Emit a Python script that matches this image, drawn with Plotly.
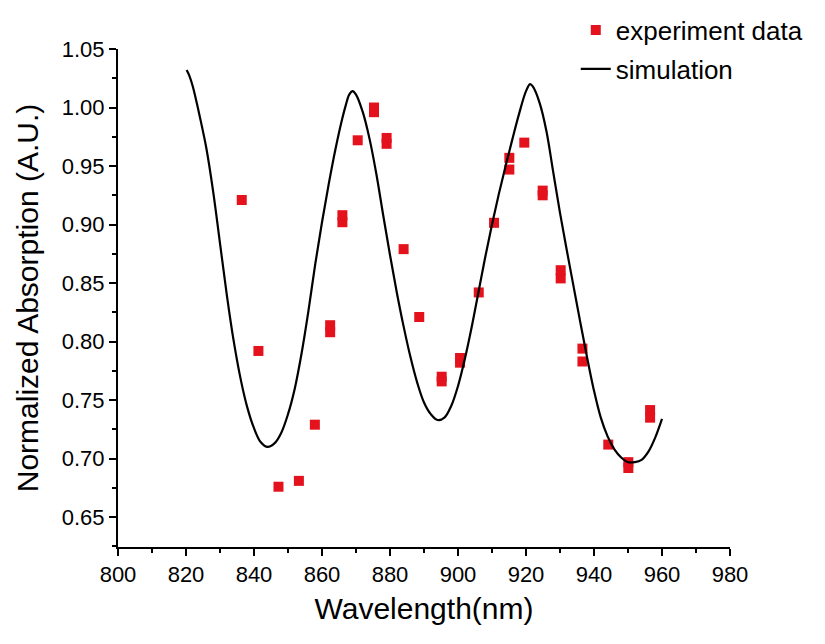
import plotly.graph_objects as go

# Experiment data
exp_wavelength = [836.4, 841.3, 847.2, 853.2, 857.9, 862.4, 862.4, 866.0, 866.0, 870.5,
                  875.3, 875.3, 879.0, 879.0, 884.0, 888.6, 895.2, 895.2, 900.6, 900.6,
                  906.1, 910.6, 915.1, 915.1, 919.5, 924.9, 924.9, 930.2, 930.2, 936.6,
                  936.6, 944.2, 950.1, 950.1, 956.5, 956.5]
exp_absorption = [0.921, 0.792, 0.676, 0.681, 0.729, 0.808, 0.814, 0.902, 0.908, 0.972,
                  0.996, 1.000, 0.969, 0.974, 0.879, 0.821, 0.766, 0.770, 0.782, 0.786,
                  0.842, 0.9015, 0.947, 0.957, 0.970, 0.925, 0.929, 0.854, 0.861, 0.783,
                  0.794, 0.712, 0.692, 0.697, 0.735, 0.7415]

# Simulation curve
sim_wavelength = [820.2, 821, 822, 823, 824, 826, 828, 830, 832, 834, 836, 838, 840, 842, 844,
                  846, 848, 850, 852, 854, 856, 858, 860, 862, 864, 866, 867, 868, 869,
                  870, 872, 874, 876, 878, 880, 882, 884, 886, 888, 890, 892, 894,
                  896, 898, 900, 902, 904, 906, 908, 910, 912, 914, 916, 918, 920, 921.2,
                  922, 924, 926, 928, 930, 932, 934, 936, 938, 940, 942, 944, 946, 948,
                  950, 952, 954, 956, 958, 960]
sim_absorption = [1.032, 1.027, 1.018, 1.006, 0.993, 0.965, 0.928, 0.884, 0.840, 0.801, 0.769,
                  0.744, 0.726, 0.714, 0.710,
                  0.713, 0.722, 0.738, 0.760, 0.790, 0.826, 0.866, 0.902, 0.935, 0.965, 0.991,
                  1.002, 1.011, 1.014,
                  1.011, 0.996, 0.973, 0.943, 0.908, 0.874, 0.842, 0.813, 0.787, 0.765, 0.748,
                  0.738, 0.733,
                  0.735, 0.745, 0.762, 0.785, 0.812, 0.842, 0.872, 0.900, 0.926, 0.950, 0.973,
                  0.995, 1.014, 1.020,
                  1.018, 1.004, 0.980, 0.945, 0.910, 0.878, 0.847, 0.816, 0.786, 0.758, 0.735,
                  0.719, 0.708, 0.701, 0.697, 0.697, 0.699, 0.706, 0.718, 0.734]

FONT = "Arial, Liberation Sans, sans-serif"
RED = "rgb(228,18,28)"

fig = go.Figure()
fig.add_trace(go.Scatter(
    x=exp_wavelength, y=exp_absorption, mode="markers", name="experiment data",
    marker=dict(symbol="square", size=10, color=RED, line=dict(width=0)),
    legendgroup="a",
))
fig.add_trace(go.Scatter(
    x=sim_wavelength, y=sim_absorption, mode="lines", name="simulation",
    line=dict(color="black", width=2.2, shape="spline", smoothing=1.0),
    legendgroup="b",
))

axis_common = dict(
    showline=True, linecolor="black", linewidth=2, mirror=False,
    ticks="outside", ticklen=7, tickwidth=2, tickcolor="black",
    showgrid=False, zeroline=False, automargin=False,
    tickfont=dict(family=FONT, size=22, color="black"),
)

fig.update_xaxes(
    range=[800, 980], tick0=800, dtick=20,
    minor=dict(ticks="outside", dtick=10, ticklen=4, tickwidth=2, tickcolor="black"),
    title=dict(text="Wavelength(nm)", font=dict(family=FONT, size=30, color="black"), standoff=12),
    **axis_common,
)
fig.update_yaxes(
    range=[0.6245, 1.05], tick0=0.65, dtick=0.05, tickformat=".2f",
    minor=dict(ticks="outside", dtick=0.025, ticklen=4, tickwidth=2, tickcolor="black"),
    title=dict(text="Normalized Absorption (A.U.)", font=dict(family=FONT, size=30, color="black"), standoff=14),
    **axis_common,
)

fig.update_layout(
    width=817, height=636,
    margin=dict(l=110, r=95, t=41, b=97, autoexpand=False),
    paper_bgcolor="white", plot_bgcolor="white",
    font=dict(family=FONT, color="black"),
    showlegend=True,
    legend=dict(
        x=0.748, y=1.085, xanchor="left", yanchor="top",
        font=dict(family=FONT, size=26, color="black"),
        bgcolor="rgba(0,0,0,0)", borderwidth=0,
        traceorder="grouped", tracegroupgap=2,
    ),
)

fig.write_html("out.html")
